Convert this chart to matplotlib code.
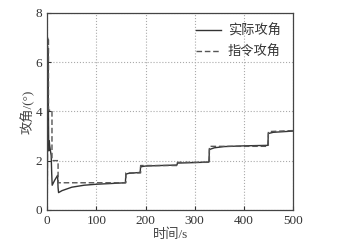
import matplotlib.pyplot as plt
import numpy as np

plt.rcParams['font.family'] = ['Liberation Serif', 'Noto Sans CJK SC']
plt.rcParams['font.size'] = 9.5

# actual angle of attack
t_act = [0, 1, 1.5, 3, 4, 5, 8, 9, 10, 15, 21, 22, 23, 30, 50, 75, 100, 130,
         159, 160, 165, 189, 190, 200, 230, 264, 265, 300, 329, 330, 340, 360,
         400, 449, 450, 460, 500]
a_act = [0, 6.5, 6.0, 2.4, 2.8, 2.6, 2.2, 1.5, 1.0, 1.2, 1.4, 0.9, 0.7, 0.78,
         0.92, 1.0, 1.04, 1.07, 1.1, 1.45, 1.48, 1.52, 1.75, 1.78, 1.8, 1.82,
         1.9, 1.92, 1.94, 2.45, 2.52, 2.57, 2.6, 2.62, 3.1, 3.15, 3.2]

# commanded angle of attack
t_cmd = [0, 1.2, 2.5, 2.5, 9.6, 9.6, 22, 22, 160, 160, 190, 190, 265, 265,
         330, 330, 450, 450, 500]
a_cmd = [0, 7.0, 7.0, 4.05, 4.05, 2.0, 2.0, 1.1, 1.1, 1.5, 1.5, 1.8, 1.8,
         1.93, 1.93, 2.58, 2.58, 3.18, 3.22]

fig = plt.figure(figsize=(3.45, 2.44), dpi=100)
ax = fig.add_axes([0.137, 0.14, 0.712, 0.807])

ax.plot(t_act, a_act, color='#333333', lw=1.0, label='实际攻角')
ax.plot(t_cmd, a_cmd, color='#555555', lw=1.0, ls='--', dashes=(4, 2),
        label='指令攻角')

ax.set_xlim(0, 500)
ax.set_ylim(0, 8)
ax.set_xticks([0, 100, 200, 300, 400, 500])
ax.set_yticks([0, 2, 4, 6, 8])
ax.tick_params(direction='in', length=3, colors='#333333', labelcolor='#333333')
ax.grid(True, ls=':', color='#aaaaaa', lw=0.8)
for s in ax.spines.values():
    s.set_color('#444444')
    s.set_linewidth(0.9)

ax.set_xlabel('时间/s', color='#444444', labelpad=1)
ax.set_ylabel('攻角/(°)', color='#444444', labelpad=1)

ax.legend(loc='upper right', frameon=False, handlelength=1.9,
          handletextpad=0.5, labelspacing=0.6, borderaxespad=0.5,
          fontsize=9.5, labelcolor='#333333')

fig.savefig('out.png', dpi=100)
